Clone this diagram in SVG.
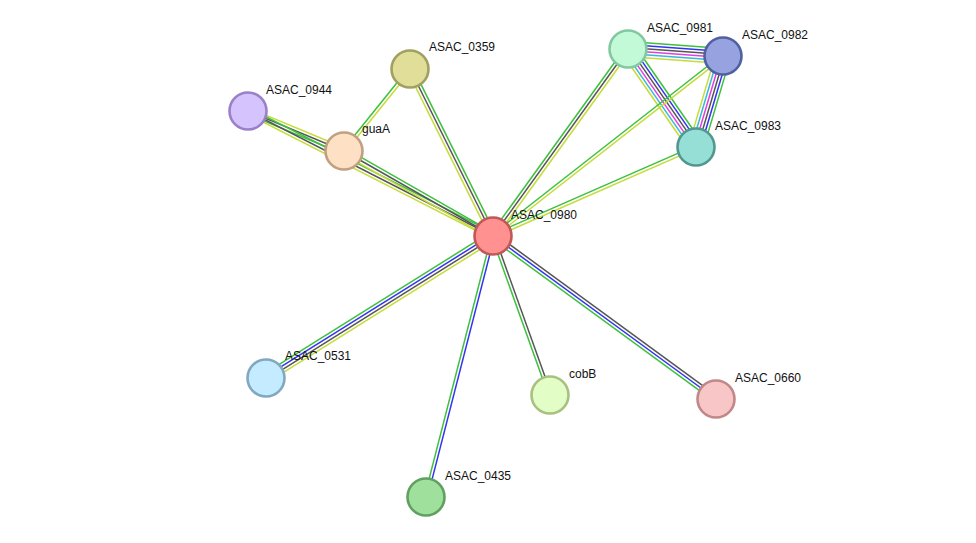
<svg xmlns="http://www.w3.org/2000/svg" width="976" height="543" viewBox="0 0 976 543">
<style>
line{stroke-width:1.5;fill:none}
.g{stroke:#3DC03D}.k{stroke:#555555}.y{stroke:#C5DC3A}.b{stroke:#3333F0}.m{stroke:#E040E0}.c{stroke:#38B8D8}
circle{stroke-width:2.6}
text{font-family:"Liberation Sans",Arial,sans-serif;font-size:12px;fill:#111}
</style>
<rect width="976" height="543" fill="#fff"/>
<g id="edges">
<g transform="translate(628,49) rotate(4.21)"><line x2="95.3" y1="-7.5" y2="-7.5" class="g"/><line x2="95.3" y1="-4.5" y2="-4.5" class="b"/><line x2="95.3" y1="-1.5" y2="-1.5" class="k"/><line x2="95.3" y1="1.5" y2="1.5" class="m"/><line x2="95.3" y1="4.5" y2="4.5" class="c"/><line x2="95.3" y1="7.5" y2="7.5" class="y"/></g>
<g transform="translate(628,49) rotate(55.24)"><line x2="119.3" y1="-7.5" y2="-7.5" class="g"/><line x2="119.3" y1="-4.5" y2="-4.5" class="b"/><line x2="119.3" y1="-1.5" y2="-1.5" class="k"/><line x2="119.3" y1="1.5" y2="1.5" class="m"/><line x2="119.3" y1="4.5" y2="4.5" class="c"/><line x2="119.3" y1="7.5" y2="7.5" class="y"/></g>
<g transform="translate(723,56) rotate(106.53)"><line x2="94.9" y1="-7.5" y2="-7.5" class="g"/><line x2="94.9" y1="-4.5" y2="-4.5" class="b"/><line x2="94.9" y1="-1.5" y2="-1.5" class="k"/><line x2="94.9" y1="1.5" y2="1.5" class="m"/><line x2="94.9" y1="4.5" y2="4.5" class="c"/><line x2="94.9" y1="7.5" y2="7.5" class="y"/></g>
<g transform="translate(493,236) rotate(-54.17)"><line x2="230.6" y1="-3" y2="-3" class="g"/><line x2="230.6" class="k"/><line x2="230.6" y1="3" y2="3" class="y"/></g>
<g transform="translate(493,236) rotate(-38.05)"><line x2="292.1" y1="-1.5" y2="-1.5" class="g"/><line x2="292.1" y1="1.5" y2="1.5" class="y"/></g>
<g transform="translate(493,236) rotate(-23.67)"><line x2="221.7" y1="-1.5" y2="-1.5" class="g"/><line x2="221.7" y1="1.5" y2="1.5" class="y"/></g>
<g transform="translate(410,69) rotate(63.57)"><line x2="186.5" y1="-3" y2="-3" class="g"/><line x2="186.5" class="k"/><line x2="186.5" y1="3" y2="3" class="y"/></g>
<g transform="translate(344,151) rotate(-51.17)"><line x2="105.3" y1="-1.5" y2="-1.5" class="g"/><line x2="105.3" y1="1.5" y2="1.5" class="y"/></g>
<g transform="translate(248,111) rotate(22.62)"><line x2="104" y1="-3" y2="-3" class="y"/><line x2="104" class="k"/><line x2="104" y1="3" y2="3" class="g"/></g>
<g transform="translate(248,111) rotate(27.03)"><line x2="275" y1="-3" y2="-3" class="g"/><line x2="275" class="k"/><line x2="275" y1="3" y2="3" class="y"/></g>
<g transform="translate(344,151) rotate(29.70)"><line x2="171.5" y1="-3" y2="-3" class="g"/><line x2="171.5" class="k"/><line x2="171.5" y1="3" y2="3" class="y"/></g>
<g transform="translate(266,378) rotate(-32.03)"><line x2="267.8" y1="-4.5" y2="-4.5" class="g"/><line x2="267.8" y1="-1.5" y2="-1.5" class="b"/><line x2="267.8" y1="1.5" y2="1.5" class="k"/><line x2="267.8" y1="4.5" y2="4.5" class="y"/></g>
<g transform="translate(426,497) rotate(-75.60)"><line x2="269.5" y1="-1.5" y2="-1.5" class="g"/><line x2="269.5" y1="1.5" y2="1.5" class="b"/></g>
<g transform="translate(550,395) rotate(-109.72)"><line x2="168.9" y1="-1.5" y2="-1.5" class="g"/><line x2="168.9" y1="1.5" y2="1.5" class="k"/></g>
<g transform="translate(716,399) rotate(-143.83)"><line x2="276.2" y1="-3" y2="-3" class="g"/><line x2="276.2" class="b"/><line x2="276.2" y1="3" y2="3" class="k"/></g>
</g>
<g id="n0980"><circle cx="493" cy="236" r="18.5" fill="#FF9191" stroke="#C05858"/><text x="511" y="219">ASAC_0980</text></g>
<g id="n0981"><circle cx="628" cy="49" r="18.5" fill="#C2FAD8" stroke="#82C8A0"/><text x="647" y="32">ASAC_0981</text></g>
<g id="n0982"><circle cx="723" cy="56" r="18.5" fill="#97A2E0" stroke="#5060A0"/><text x="742" y="39">ASAC_0982</text></g>
<g id="n0983"><circle cx="696" cy="147" r="18.5" fill="#96DFD6" stroke="#509890"/><text x="715" y="130">ASAC_0983</text></g>
<g id="n0359"><circle cx="410" cy="69" r="18.5" fill="#E0DE98" stroke="#A0A060"/><text x="429" y="51">ASAC_0359</text></g>
<g id="n0944"><circle cx="248" cy="111" r="18.5" fill="#D5C3FD" stroke="#9A80C8"/><text x="266" y="94">ASAC_0944</text></g>
<g id="nguaA"><circle cx="344" cy="151" r="18.5" fill="#FEE0C4" stroke="#C0A080"/><text x="362" y="133">guaA</text></g>
<g id="n0531"><circle cx="266" cy="378" r="18.5" fill="#C4EBFF" stroke="#80A8C0"/><text x="285" y="360">ASAC_0531</text></g>
<g id="ncobB"><circle cx="550" cy="395" r="18.5" fill="#E2FEC6" stroke="#A8C080"/><text x="569" y="378">cobB</text></g>
<g id="n0660"><circle cx="716" cy="399" r="18.5" fill="#F8C6C6" stroke="#C08888"/><text x="735" y="382">ASAC_0660</text></g>
<g id="n0435"><circle cx="426" cy="497" r="18.5" fill="#9FE09C" stroke="#60A060"/><text x="445" y="480">ASAC_0435</text></g>
</svg>
